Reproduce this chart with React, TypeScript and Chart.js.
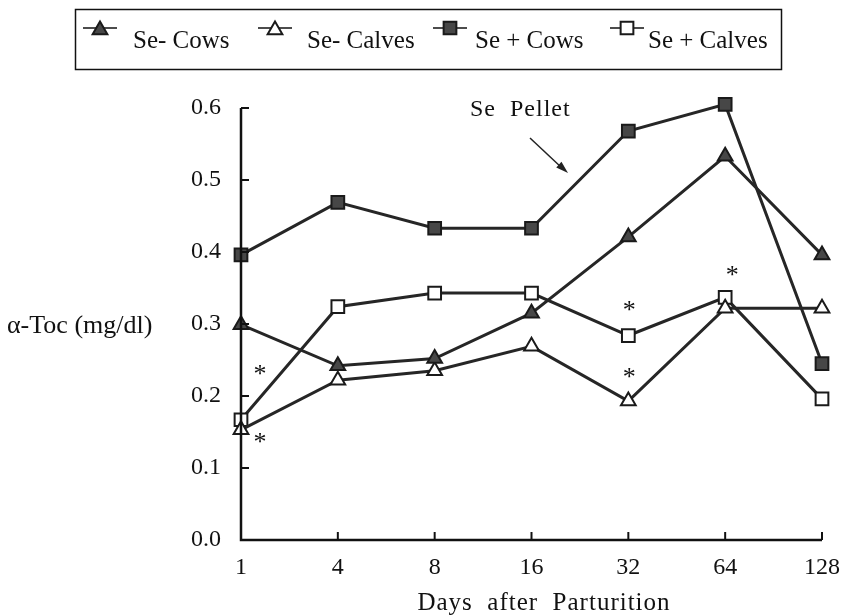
import React, { useEffect, useRef } from 'react';
import { Chart, registerables } from 'chart.js';

Chart.register(...registerables);

const days = ['1', '4', '8', '16', '32', '64', '128'];
const seMinusCows = [0.299, 0.242, 0.252, 0.315, 0.421, 0.533, 0.396];
const seMinusCalves = [0.153, 0.222, 0.235, 0.269, 0.193, 0.322, 0.322];
const sePlusCows = [0.396, 0.469, 0.433, 0.433, 0.568, 0.605, 0.245];
const sePlusCalves = [0.167, 0.324, 0.343, 0.343, 0.284, 0.337, 0.196];
const yTicks = [0.0, 0.1, 0.2, 0.3, 0.4, 0.5, 0.6];
const seriesNames = ['Se- Cows', 'Se- Calves', 'Se + Cows', 'Se + Calves'];
// significance markers: category index and value where the asterisk sits
const starIndex = [0, 0, 4, 4, 5];
const starValue = [0.236, 0.142, 0.325, 0.232, 0.373];

const FONT = '"Liberation Serif", "Times New Roman", serif';
const LINE = '#262626';
const FILL = '#474747';

function drawMarker(ctx: CanvasRenderingContext2D, kind: string, filled: boolean, x: number, y: number, r: number) {
  ctx.beginPath();
  if (kind === 'triangle') {
    const w = r * Math.sin(Math.PI / 3);
    ctx.moveTo(x, y - r);
    ctx.lineTo(x + w, y + r / 2);
    ctx.lineTo(x - w, y + r / 2);
    ctx.closePath();
  } else {
    const s = r * Math.SQRT1_2;
    ctx.rect(x - s, y - s, 2 * s, 2 * s);
  }
  ctx.fillStyle = filled ? FILL : '#ffffff';
  ctx.fill();
  ctx.lineWidth = 2;
  ctx.strokeStyle = '#1a1a1a';
  ctx.stroke();
}

const decor = {
  id: 'decor',
  afterDraw(chart: any) {
    const { ctx, chartArea, scales } = chart;
    const x = scales.x;
    const y = scales.y;
    ctx.save();
    // axes
    ctx.strokeStyle = '#111';
    ctx.lineWidth = 2.5;
    ctx.beginPath();
    ctx.moveTo(chartArea.left, chartArea.top);
    ctx.lineTo(chartArea.left, chartArea.bottom);
    ctx.lineTo(chartArea.right, chartArea.bottom);
    ctx.stroke();
    ctx.lineWidth = 2;
    yTicks.forEach((v) => {
      const py = y.getPixelForValue(v);
      ctx.beginPath();
      ctx.moveTo(chartArea.left, py);
      ctx.lineTo(chartArea.left + 8, py);
      ctx.stroke();
    });
    days.forEach((_d, i) => {
      const px = x.getPixelForValue(i);
      ctx.beginPath();
      ctx.moveTo(px, chartArea.bottom);
      ctx.lineTo(px, chartArea.bottom - 8);
      ctx.stroke();
    });

    // axis titles
    ctx.fillStyle = '#111';
    ctx.font = `26px ${FONT}`;
    ctx.textAlign = 'left';
    ctx.textBaseline = 'alphabetic';
    ctx.fillText('\u03b1-Toc (mg/dl)', 7, 333);
    (ctx as any).letterSpacing = '1px';
    ctx.textAlign = 'center';
    ctx.font = `25px ${FONT}`;
    ctx.fillText('Days  after  Parturition', 544, 610);

    // Se Pellet annotation
    ctx.textAlign = 'left';
    ctx.font = `24px ${FONT}`;
    ctx.fillText('Se  Pellet', 470, 116);
    (ctx as any).letterSpacing = '0px';
    ctx.strokeStyle = '#222';
    ctx.lineWidth = 1.5;
    ctx.beginPath();
    ctx.moveTo(530, 138);
    ctx.lineTo(562, 168);
    ctx.stroke();
    const ang = Math.atan2(172 - 138, 567 - 530);
    ctx.beginPath();
    ctx.moveTo(568, 173);
    ctx.lineTo(568 - 13 * Math.cos(ang - 0.3), 173 - 13 * Math.sin(ang - 0.3));
    ctx.lineTo(568 - 13 * Math.cos(ang + 0.3), 173 - 13 * Math.sin(ang + 0.3));
    ctx.closePath();
    ctx.fillStyle = '#222';
    ctx.fill();

    // asterisks
    ctx.fillStyle = '#111';
    ctx.font = `26px ${FONT}`;
    ctx.textAlign = 'center';
    const dxs = [19, 19, 1, 1, 7];
    starIndex.forEach((idx, k) => {
      const px = x.getPixelForValue(idx) + dxs[k];
      const py = y.getPixelForValue(starValue[k]);
      ctx.fillText('*', px, py + 12);
    });

    // legend
    ctx.strokeStyle = '#111';
    ctx.lineWidth = 1.5;
    ctx.strokeRect(75.5, 9.5, 706, 60);
    const mx = [100, 275, 450, 627];
    const tx = [133, 307, 475, 648];
    const kinds = ['triangle', 'triangle', 'rect', 'rect'];
    const fills = [true, false, true, false];
    seriesNames.forEach((name, i) => {
      ctx.strokeStyle = '#111';
      ctx.lineWidth = 1.5;
      ctx.beginPath();
      ctx.moveTo(mx[i] - 17, 28);
      ctx.lineTo(mx[i] + 17, 28);
      ctx.stroke();
      drawMarker(ctx, kinds[i], fills[i], mx[i], kinds[i] === 'triangle' ? 30 : 28, kinds[i] === 'triangle' ? 8.5 : 9);
      ctx.fillStyle = '#111';
      ctx.font = `25px ${FONT}`;
      ctx.textAlign = 'left';
      ctx.fillText(name, tx[i], 48);
    });
    ctx.restore();
  },
};

export default function App() {
  const ref = useRef<HTMLCanvasElement>(null);
  useEffect(() => {
    if (!ref.current) return;
    const mk = (label: string, data: number[], style: string, filled: boolean, r: number) => ({
      label,
      data,
      borderColor: LINE,
      borderWidth: 3,
      pointStyle: style,
      pointRadius: r,
      pointBackgroundColor: filled ? FILL : '#ffffff',
      pointBorderColor: '#1a1a1a',
      pointBorderWidth: 2,
      tension: 0,
      clip: false as any,
    });
    const chart = new Chart(ref.current, {
      type: 'line',
      data: {
        labels: days,
        datasets: [
          mk(seriesNames[0], seMinusCows, 'triangle', true, 8.5),
          mk(seriesNames[1], seMinusCalves, 'triangle', false, 8.5),
          mk(seriesNames[2], sePlusCows, 'rect', true, 9),
          mk(seriesNames[3], sePlusCalves, 'rect', false, 9),
        ],
      },
      options: {
        responsive: false,
        animation: false,
        layout: { padding: { left: 151, right: 21, top: 108, bottom: 26 } },
        plugins: { legend: { display: false }, tooltip: { enabled: false } },
        scales: {
          x: {
            type: 'category',
            offset: false,
            grid: { display: false, drawTicks: false },
            border: { display: false },
            ticks: {
              color: '#111',
              font: { family: FONT, size: 24 },
              padding: 13,
              maxRotation: 0,
              autoSkip: false,
            },
            afterFit: (s: any) => { s.height = 50; s.paddingLeft = 0; s.paddingRight = 0; },
          },
          y: {
            min: 0,
            max: 0.6,
            grid: { display: false, drawTicks: false },
            border: { display: false },
            afterBuildTicks: (s: any) => { s.ticks = yTicks.map((v) => ({ value: v })); },
            ticks: {
              color: '#111',
              font: { family: FONT, size: 24 },
              padding: 20,
              callback: (v: any) => Number(v).toFixed(1),
            },
            afterFit: (s: any) => { s.width = 90; s.paddingTop = 0; s.paddingBottom = 0; },
          },
        },
      },
      plugins: [decor],
    });
    return () => chart.destroy();
  }, []);
  return (
    <div style={{ position: 'absolute', left: 0, top: 0, width: 843, height: 616, background: '#fff' }}>
      <canvas ref={ref} width={843} height={616} />
    </div>
  );
}
